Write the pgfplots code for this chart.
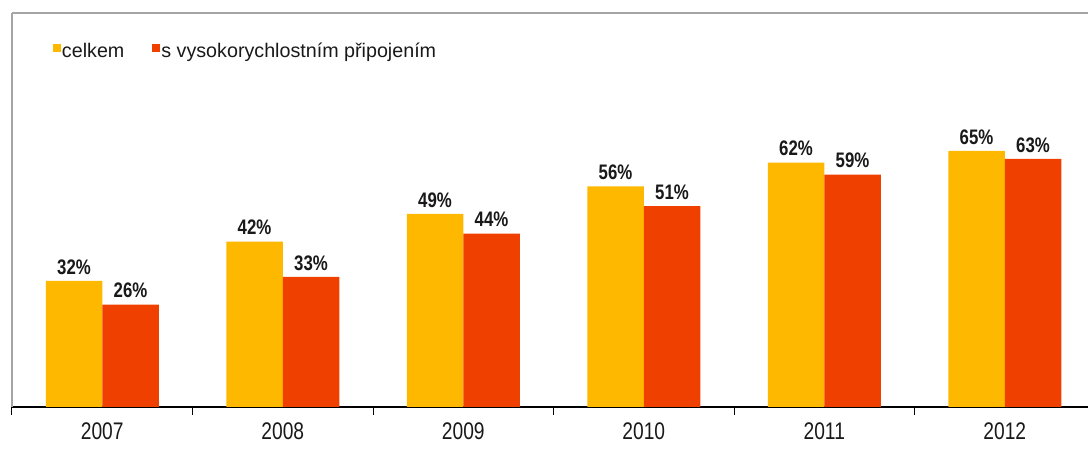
\documentclass[border=0pt]{standalone}
\usepackage{pgfplots}
\pgfplotsset{compat=1.18}
\usepackage{fontspec}
\setmainfont{Liberation Sans}
\newfontfamily\narrowfont[FakeStretch=0.8]{Liberation Sans}
\definecolor{cOrange}{RGB}{255,184,0}
\definecolor{cRed}{RGB}{240,64,0}
\definecolor{frameGray}{RGB}{165,165,165}
\begin{document}
\begin{tikzpicture}
\begin{axis}[
  scale only axis, width=1076pt, height=394pt,
  xmin=-0.5, xmax=5.461, ymin=0, ymax=100,
  ybar, bar width=56.5pt,
  axis x line*=bottom, axis y line*=left,
  x axis line style={black, line width=1.2pt},
  y axis line style={frameGray, line width=1.8pt},
  xtick={0,1,2,3,4,5}, xticklabels={2007,2008,2009,2010,2011,2012},
  major tick length=0pt,
  minor xtick={-0.5,0.5,1.5,2.5,3.5,4.5},
  minor x tick style={black, line width=1pt},
  minor tick length=8pt, tick align=outside,
  ytick=\empty,
  /pgf/number format/assume math mode=true,
  xticklabel style={font=\narrowfont\fontsize{24}{26}\selectfont, yshift=-12pt, text=black!90},
  nodes near coords={\pgfmathprintnumber{\pgfplotspointmeta}\%},
  every node near coord/.append style={font=\narrowfont\bfseries\fontsize{21}{24}\selectfont, text=black!90, yshift=3pt},
  legend style={draw=none, fill=none, inner sep=0pt, outer sep=0pt,
    at={(axis description cs:0.0381,0.9036)}, anchor=west,
    font=\fontsize{19.7}{22}\selectfont,
    nodes={inner sep=1pt, text=black!90},
    /tikz/every even column/.append style={column sep=27pt}},
  legend columns=2,
]
\addplot[fill=cOrange, draw=none, bar shift=-28.25pt,
  legend image code/.code={\fill[cOrange] (0pt,-1pt) rectangle (8pt,7pt);}]
  coordinates {(0,32) (1,42) (2,49) (3,56) (4,62) (5,65)};
\addplot[fill=cRed, draw=none, bar shift=28.25pt,
  legend image code/.code={\fill[cRed] (0pt,-1pt) rectangle (8pt,7pt);}]
  coordinates {(0,26) (1,33) (2,44) (3,51) (4,59) (5,63)};
\legend{celkem, s vysokorychlostním připojením}
\draw[frameGray, line width=1.8pt] (rel axis cs:0,1) -- (rel axis cs:1,1);
\end{axis}
\pgfresetboundingbox
\path[use as bounding box] ([xshift=-12pt,yshift=-48pt]current axis.south west) rectangle ([yshift=13pt]current axis.north east);
\end{tikzpicture}
\end{document}
